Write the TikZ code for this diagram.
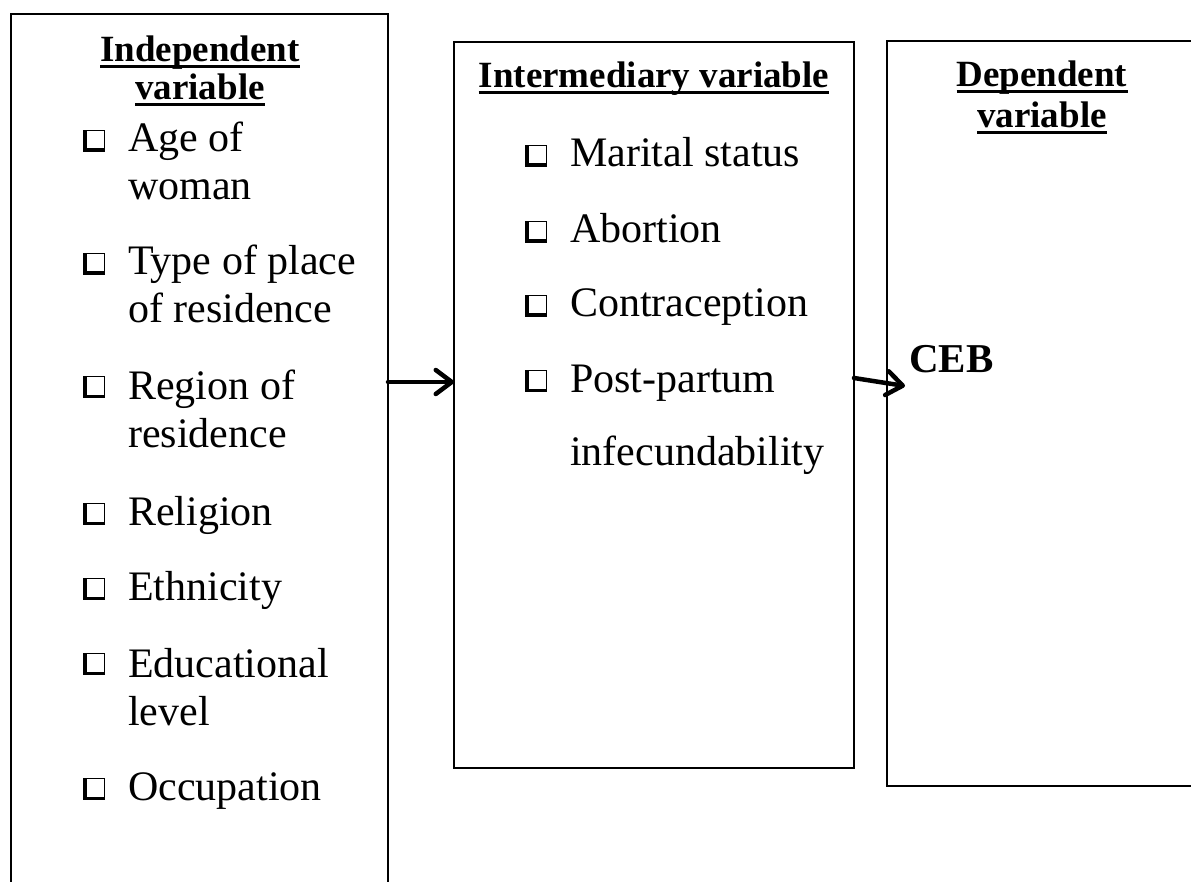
\documentclass[tikz,border=0pt]{standalone}
\usepackage{fontspec}
\setmainfont{Liberation Serif}
\usetikzlibrary{arrows.meta}
\usetikzlibrary{calc}

\begin{document}
\begin{tikzpicture}[x=1pt, y=-1pt, >={Straight Barb[round,length=16pt,width=24pt]},
	box/.style={draw, line width=1.6pt, inner sep=0pt, outer sep=0pt},
	item/.style={anchor=base west, inner sep=0pt, align=left, font=\fontsize{42}{48}\selectfont},
	hdr/.style={anchor=base, inner sep=0pt, font=\fontsize{37}{42}\selectfont\bfseries},
	uline/.style={line width=3pt},
	link/.style={->, line width=4.5pt, line cap=round},
	chkbox/.pic={\fill (0,0) rectangle (22,-22); \fill [white] (3.5,-3.5) rectangle (20.8,-20.8);}]
	\useasboundingbox (0,0) rectangle (1191,882);
	% the three boxes
	\node [box, minimum width=377pt, minimum height=886pt] (indep) at (199.5,457) {};
	\node [box, minimum width=400pt, minimum height=726pt] (inter) at (654,405) {};
	\node [box, minimum width=313pt, minimum height=745pt] (dep) at (1043.5,413.5) {};
	% headings
	\node [hdr] (indep a) at (200,62) {Independent};
	\node [hdr] (indep b) at (200,100) {variable};
	\node [hdr] (inter a) at (654,88) {Intermediary variable};
	\node [hdr] (dep a) at (1042,87) {Dependent};
	\node [hdr] (dep b) at (1042,128) {variable};
	\foreach \n in {indep a, indep b, inter a, dep a, dep b}
		\draw [uline] ($(\n.base west)+(0,5)$) -- ($(\n.base east)+(0,5)$);
	% independent variables (base = last line)
	\node [item] (age) at (128,200) {Age of\\woman};
	\node [item] (place) at (128,323) {Type of place\\of residence};
	\node [item] (region) at (128,447) {Region of\\residence};
	\node [item] (religion) at (128,525) {Religion};
	\node [item] (ethnic) at (128,600) {Ethnicity};
	\node [item] (educ) at (128,725) {Educational\\level};
	\node [item] (occup) at (128,800) {Occupation};
	\foreach \yb in {152,275,398,525,600,675,800}
		\pic at (83,\yb) {chkbox};
	% intermediary variables
	\node [item] (marital) at (570,167) {Marital status};
	\node [item] (abort) at (570,243) {Abortion};
	\node [item] (contra) at (570,317) {Contraception};
	\node [item] (postp) at (570,392) {Post-partum};
	\node [item] (infec) at (570,465) {infecundability};
	\foreach \yb in {167,243,317,392}
		\pic at (525,\yb) {chkbox};
	% dependent variable
	\node [hdr, anchor=base west, font=\fontsize{41}{48}\selectfont\bfseries] (ceb) at (909,373) {CEB};
	\coordinate (lvl) at (0,382);
	\coordinate (ceb tip) at (905,386);
	\draw [link] (indep.east |- lvl) -- (inter.west |- lvl);
	\draw [link] (inter.east |- 0,378) -- (ceb tip);
\end{tikzpicture}
\end{document}
